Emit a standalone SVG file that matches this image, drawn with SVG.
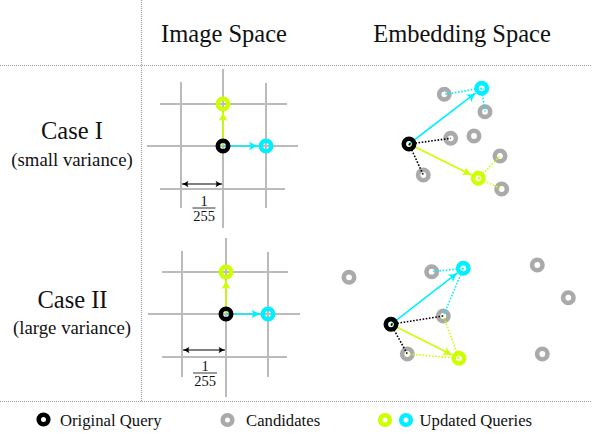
<svg xmlns="http://www.w3.org/2000/svg" width="592" height="434" viewBox="0 0 592 434">
<style>
text{font-family:"Liberation Serif","Times New Roman","DejaVu Serif",serif;fill:#111}
.title{font-size:24.5px;text-anchor:middle}
.case{font-size:24.5px;text-anchor:middle}
.sub{font-size:18.8px;text-anchor:middle}
.leg{font-size:16.7px}
.frac{font-size:14.5px;text-anchor:middle}
.sep{stroke:#999;stroke-width:1;stroke-dasharray:1 1;fill:none}
.grid{stroke:#bbb;stroke-width:2;fill:none}
.ring{fill:none;stroke-width:4.6}
.q{stroke:#000}
.c{stroke:#aaa}
.l{stroke:#ccff00}
.y{stroke:#00f0ff}
.arc{stroke:#00f0ff;stroke-width:1.6;fill:none}
.arl{stroke:#ccff00;stroke-width:1.6;fill:none}
.dc{stroke:#00f0ff;stroke-width:1.6;stroke-dasharray:1.6 1.6;fill:none}
.dl{stroke:#ccff00;stroke-width:1.6;stroke-dasharray:1.6 1.6;fill:none}
.dk{stroke:#000;stroke-width:1.6;stroke-dasharray:1.6 1.6;fill:none}
.dim{stroke:#000;stroke-width:1;fill:none}
</style>
<defs>
<marker id="mc" markerUnits="userSpaceOnUse" markerWidth="12" markerHeight="12" refX="0" refY="0" viewBox="-10 -6 12 12" orient="auto">
<path d="M0,0 Q-4,-1.2 -9,-4.5 Q-6,0 -9,4.5 Q-4,1.2 0,0 Z" fill="#00f0ff"/>
</marker>
<marker id="ml" markerUnits="userSpaceOnUse" markerWidth="12" markerHeight="12" refX="0" refY="0" viewBox="-10 -6 12 12" orient="auto">
<path d="M0,0 Q-4,-1.2 -9,-4.5 Q-6,0 -9,4.5 Q-4,1.2 0,0 Z" fill="#ccff00"/>
</marker>
<marker id="mk" markerUnits="userSpaceOnUse" markerWidth="10" markerHeight="10" refX="0" refY="0" viewBox="-8 -5 10 10" orient="auto-start-reverse">
<path d="M0,0 Q-3,-1 -6.5,-3.2 Q-4.5,0 -6.5,3.2 Q-3,1 0,0 Z" fill="#000"/>
</marker>
</defs>

<g id="separators">
<line class="sep" x1="141.5" y1="0" x2="141.5" y2="402"/>
<line class="sep" x1="0" y1="65.5" x2="592" y2="65.5"/>
<line class="sep" x1="0" y1="401.5" x2="592" y2="401.5"/>
</g>

<g id="headers">
<text class="title" x="224" y="42">Image Space</text>
<text class="title" x="462" y="42">Embedding Space</text>
<text class="case" x="72" y="139">Case I</text>
<text class="sub" x="72" y="166">(small variance)</text>
<text class="case" x="72.5" y="308">Case II</text>
<text class="sub" x="72" y="334">(large variance)</text>
</g>

<g id="grid1">
<line class="grid" x1="181" y1="82" x2="181" y2="208"/>
<line class="grid" x1="223" y1="69" x2="223" y2="228"/>
<line class="grid" x1="266" y1="83" x2="266" y2="208"/>
<line class="grid" x1="160" y1="104" x2="287" y2="104"/>
<line class="grid" x1="147" y1="146" x2="298" y2="146"/>
<line class="grid" x1="160" y1="189" x2="285" y2="189"/>
</g>
<g id="grid2">
<line class="grid" x1="182" y1="251" x2="182" y2="377"/>
<line class="grid" x1="226" y1="238" x2="226" y2="397"/>
<line class="grid" x1="268" y1="252" x2="268" y2="377"/>
<line class="grid" x1="162" y1="272" x2="288" y2="272"/>
<line class="grid" x1="148" y1="314" x2="300" y2="314"/>
<line class="grid" x1="162" y1="357" x2="287" y2="357"/>
</g>

<g id="dim1">
<line class="dim" x1="182" y1="184" x2="222" y2="184" marker-start="url(#mk)" marker-end="url(#mk)"/>
<text class="frac" x="204" y="206">1</text>
<line x1="192.5" y1="208" x2="215.5" y2="208" stroke="#000" stroke-width="0.8"/>
<text class="frac" x="204" y="220.5">255</text>
</g>
<g id="dim2">
<line class="dim" x1="183" y1="350" x2="225" y2="350" marker-start="url(#mk)" marker-end="url(#mk)"/>
<text class="frac" x="205" y="371">1</text>
<line x1="193" y1="373" x2="217" y2="373" stroke="#000" stroke-width="0.8"/>
<text class="frac" x="205" y="386">255</text>
</g>

<g id="candidates1">
<circle class="ring c" cx="444.3" cy="94.3" r="5.2"/>
<circle class="ring c" cx="485" cy="111.7" r="5.2"/>
<circle class="ring c" cx="450.7" cy="138.3" r="5.2"/>
<circle class="ring c" cx="474" cy="136" r="5.2"/>
<circle class="ring c" cx="500" cy="156" r="5.2"/>
<circle class="ring c" cx="423.3" cy="175" r="5.2"/>
<circle class="ring c" cx="501.7" cy="189" r="5.2"/>
</g>
<g id="candidates2">
<circle class="ring c" cx="349" cy="277.3" r="5.2"/>
<circle class="ring c" cx="431.7" cy="271.7" r="5.2"/>
<circle class="ring c" cx="443.3" cy="316" r="5.2"/>
<circle class="ring c" cx="407.3" cy="354" r="5.2"/>
<circle class="ring c" cx="537.3" cy="265" r="5.2"/>
<circle class="ring c" cx="568.3" cy="297.7" r="5.2"/>
<circle class="ring c" cx="542.3" cy="354" r="5.2"/>
</g>

<g id="connectors">
<line class="arl" x1="223" y1="146" x2="223" y2="112" marker-end="url(#ml)"/>
<line class="arc" x1="223" y1="146" x2="258" y2="146" marker-end="url(#mc)"/>
<line class="arl" x1="226" y1="314" x2="226" y2="280" marker-end="url(#ml)"/>
<line class="arc" x1="226" y1="314" x2="260.5" y2="314" marker-end="url(#mc)"/>

<line class="arc" x1="409" y1="144" x2="475.7" y2="92.9" marker-end="url(#mc)"/>
<line class="arl" x1="409" y1="144" x2="471.6" y2="175" marker-end="url(#ml)"/>
<line class="dc" x1="481.7" y1="88.3" x2="444.3" y2="94.3"/>
<line class="dc" x1="481.7" y1="88.3" x2="485" y2="111.7"/>
<line class="dk" x1="409" y1="144" x2="450.7" y2="138.3"/>
<line class="dk" x1="409" y1="144" x2="423.3" y2="175"/>
<line class="dl" x1="478.3" y1="178.3" x2="500" y2="156"/>
<line class="dl" x1="478.3" y1="178.3" x2="501.7" y2="189"/>

<line class="arc" x1="391" y1="324.3" x2="457.4" y2="272.9" marker-end="url(#mc)"/>
<line class="arl" x1="391" y1="324.3" x2="452.3" y2="355" marker-end="url(#ml)"/>
<line class="dc" x1="463.3" y1="268.3" x2="431.7" y2="271.7"/>
<line class="dc" x1="463.3" y1="268.3" x2="443.3" y2="316"/>
<line class="dk" x1="391" y1="324.3" x2="443.3" y2="316"/>
<line class="dk" x1="391" y1="324.3" x2="407.3" y2="354"/>
<line class="dl" x1="459" y1="358.3" x2="443.3" y2="316"/>
<line class="dl" x1="459" y1="358.3" x2="407.3" y2="354"/>
</g>

<g id="image-query1"><circle class="ring q" cx="223" cy="146" r="5.2"/></g>
<g id="image-lime1"><circle class="ring l" cx="223" cy="104" r="5.2"/></g>
<g id="image-cyan1"><circle class="ring y" cx="266" cy="146" r="5.2"/></g>
<g id="image-query2"><circle class="ring q" cx="226" cy="314" r="5.2"/></g>
<g id="image-lime2"><circle class="ring l" cx="226" cy="272" r="5.2"/></g>
<g id="image-cyan2"><circle class="ring y" cx="268" cy="314" r="5.2"/></g>

<g id="emb-query1"><circle class="ring q" cx="409" cy="144" r="5.2"/></g>
<g id="emb-cyan1"><circle class="ring y" cx="481.7" cy="88.3" r="5.2"/></g>
<g id="emb-lime1"><circle class="ring l" cx="478.3" cy="178.3" r="5.2"/></g>
<g id="emb-query2"><circle class="ring q" cx="391" cy="324.3" r="5.2"/></g>
<g id="emb-cyan2"><circle class="ring y" cx="463.3" cy="268.3" r="5.2"/></g>
<g id="emb-lime2"><circle class="ring l" cx="459" cy="358.3" r="5.2"/></g>

<g id="legend">
<circle class="ring q" cx="43.5" cy="419.5" r="4.8"/>
<text class="leg" x="60" y="426">Original Query</text>
<circle class="ring c" cx="227.5" cy="420" r="4.8"/>
<text class="leg" x="246" y="426">Candidates</text>
<circle class="ring l" cx="385" cy="420" r="4.8"/>
<circle class="ring y" cx="406" cy="420" r="4.8"/>
<text class="leg" x="419.5" y="426">Updated Queries</text>
</g>
</svg>
